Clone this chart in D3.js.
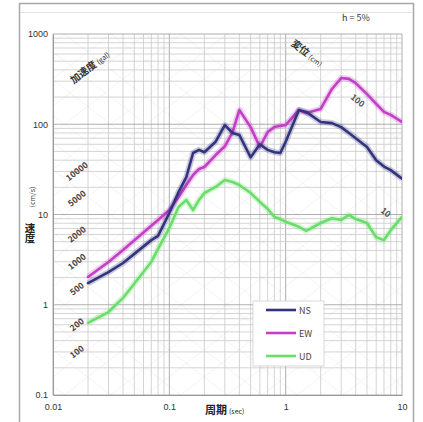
<!DOCTYPE html>
<html>
<head>
<meta charset="utf-8">
<script src="https://cdn.jsdelivr.net/npm/d3@7"></script>
<style>
  html, body { margin: 0; padding: 0; background: #fff; }
  svg { display: block; font-family: "Noto Sans CJK JP", "Noto Sans", sans-serif; }
</style>
</head>
<body>
<svg id="chart" width="423" height="422"></svg>
<script>
// Periods (s) at which the velocity response spectra are sampled
const periods = [0.02, 0.03, 0.04, 0.07, 0.08, 0.1, 0.12, 0.14, 0.16, 0.18, 0.2, 0.25, 0.3, 0.35, 0.4,
                 0.5, 0.6, 0.7, 0.8, 0.9, 1.0, 1.3, 1.5, 2.0, 2.5, 3.0, 3.5, 4.0, 5.0, 6.0, 7.0, 8.0, 10];
// Pseudo velocity response (cm/s), h = 5%
const nsVelocity = [1.74, 2.3, 2.9, 5.2, 5.8, 10.4, 17.7, 26, 48, 52, 49, 64, 98, 80, 76,
                    43, 60, 52, 49, 48, 64, 144, 137, 106, 103, 93, 80, 70, 56, 40, 34, 31, 25];
const ewVelocity = [2.03, 2.98, 4.05, 7.5, 8.7, 11.2, 15.6, 21.2, 27.4, 31.9, 33.6, 45.6, 57, 82, 144,
                    93, 56, 82, 93, 96, 98, 144, 133, 148, 246, 325, 318, 286, 216, 168, 137, 127, 106];
const udVelocity = [0.63, 0.83, 1.19, 2.98, 4.15, 7.1, 12.1, 14.5, 11.2, 14.5, 17.3, 20.2, 24.1, 22.9, 21.2,
                    17.3, 13.8, 11.5, 9.4, 8.9, 8.3, 7.3, 6.6, 8.05, 9.1, 8.7, 9.9, 8.9, 8.05, 5.6, 5.2, 6.7, 9.4];
const seriesNames = ["NS", "EW", "UD"];
const seriesColors = ["#34347e", "#c23fc6", "#6ade6a"];

const periodTicks = [0.01, 0.1, 1, 10];
const periodTickLabels = ["0.01", "0.1", "1", "10"];
const velocityTicks = [0.1, 1, 10, 100, 1000];
const velocityTickLabels = ["0.1", "1", "10", "100", "1000"];
const accelLabelValues = [100, 200, 500, 1000, 2000, 5000, 10000];
const dispLabelValues = [100, 10];

const svg = d3.select("#chart");
const plotL = 53, plotR = 402, plotT = 34, plotB = 395;

const x = d3.scaleLog().domain([0.01, 10]).range([plotL, plotR]);
const y = d3.scaleLog().domain([0.1, 1000]).range([plotB, plotT]);

// outer frame
svg.append("rect").attr("x", 19.5).attr("y", 3.5).attr("width", 394).attr("height", 430)
  .attr("fill", "none").attr("stroke", "#a8a8a8").attr("stroke-width", 1.5);
svg.append("line").attr("x1", 20).attr("x2", 413).attr("y1", 12.5).attr("y2", 12.5)
  .attr("stroke", "#e4e4e4");

svg.append("defs").append("clipPath").attr("id", "plotClip")
  .append("rect").attr("x", plotL).attr("y", plotT).attr("width", plotR - plotL).attr("height", plotB - plotT);

// diagonal lines: constant acceleration and constant displacement
const diag = svg.append("g").attr("clip-path", "url(#plotClip)");
const steps = [];
for (let e = -4; e <= 6; e++) [1, 2, 5].forEach(m => steps.push(m * Math.pow(10, e)));
const tEnds = [0.01, 10];
steps.forEach(a => {
  diag.append("line")
    .attr("x1", x(tEnds[0])).attr("y1", y(a * tEnds[0] / (2 * Math.PI)))
    .attr("x2", x(tEnds[1])).attr("y2", y(a * tEnds[1] / (2 * Math.PI)))
    .attr("stroke", "#e8e8e8").attr("stroke-width", 0.5);
  diag.append("line")
    .attr("x1", x(tEnds[0])).attr("y1", y(2 * Math.PI * a / tEnds[0]))
    .attr("x2", x(tEnds[1])).attr("y2", y(2 * Math.PI * a / tEnds[1]))
    .attr("stroke", "#e8e8e8").attr("stroke-width", 0.5);
});

// log grid
const minorX = [];
for (let e = -2; e < 1; e++) for (let m = 1; m < 10; m++) minorX.push(m * Math.pow(10, e));
minorX.push(10);
const minorY = [];
for (let e = -1; e < 3; e++) for (let m = 1; m < 10; m++) minorY.push(m * Math.pow(10, e));
minorY.push(1000);
const isDecade = d => Math.abs(Math.log10(d) - Math.round(Math.log10(d))) < 1e-9;

const grid = svg.append("g");
grid.selectAll(".vx").data(minorX).join("line")
  .attr("x1", d => x(d)).attr("x2", d => x(d)).attr("y1", plotT).attr("y2", plotB)
  .attr("stroke", d => isDecade(d) ? "#9a9a9a" : "#c9c9c9")
  .attr("stroke-width", 0.8);
grid.selectAll(".hy").data(minorY).join("line")
  .attr("y1", d => y(d)).attr("y2", d => y(d)).attr("x1", plotL).attr("x2", plotR)
  .attr("stroke", d => isDecade(d) ? "#9a9a9a" : "#c9c9c9")
  .attr("stroke-width", 0.8);

// axes
const xAxis = svg.append("g").attr("transform", `translate(0,${plotB})`)
  .call(d3.axisBottom(x).tickValues(periodTicks).tickSize(0).tickPadding(9)
    .tickFormat((d, i) => periodTickLabels[i]));
xAxis.select(".domain").attr("stroke", "#9a9a9a");
xAxis.selectAll("text").attr("font-size", 9).attr("fill", "#333");

const yAxis = svg.append("g").attr("transform", `translate(${plotL},0)`)
  .call(d3.axisLeft(y).tickValues(velocityTicks).tickSize(0).tickPadding(5)
    .tickFormat((d, i) => velocityTickLabels[i]));
yAxis.select(".domain").attr("stroke", "#9a9a9a");
yAxis.selectAll("text").attr("font-size", 9).attr("fill", "#333");

// axis titles
const xt = svg.append("text").attr("x", 205).attr("y", 414).attr("fill", "#222");
xt.append("tspan").attr("font-size", 11).attr("font-weight", "bold").text("周期");
xt.append("tspan").attr("font-size", 7).attr("dx", 2).text("(sec)");

// vertical title, upright characters
svg.append("text").attr("x", 30).attr("y", 233)
  .style("writing-mode", "vertical-rl").style("text-orientation", "upright")
  .attr("text-anchor", "middle").attr("font-size", 10.5).attr("font-weight", "bold")
  .attr("fill", "#222").text("速度");
svg.append("text").attr("transform", "translate(35,197) rotate(-90)")
  .attr("text-anchor", "middle").attr("font-size", 7).attr("fill", "#333").text("(cm/s)");

svg.append("text").attr("x", 356).attr("y", 21).attr("text-anchor", "middle")
  .attr("font-size", 9).attr("fill", "#333").text("h = 5%");

// diagonal scale labels
const ang = Math.atan((y(1) - y(10)) / (x(10) - x(1))) * 180 / Math.PI;
const tAcc = x.invert(80);
accelLabelValues.forEach(a => {
  svg.append("text")
    .attr("transform", `translate(80,${y(a * tAcc / (2 * Math.PI))}) rotate(${-ang})`)
    .attr("dy", -2).attr("text-anchor", "middle").attr("font-size", 8.5)
    .attr("font-weight", "bold").attr("fill", "#444").text(a);
});
const at = svg.append("text").attr("transform", `translate(92,70) rotate(${-ang})`)
  .attr("text-anchor", "middle").attr("fill", "#333");
at.append("tspan").attr("font-size", 10).attr("font-weight", "bold").text("加速度");
at.append("tspan").attr("font-size", 7).attr("dx", 2).text("(gal)");

const dt = svg.append("text").attr("transform", `translate(305,56) rotate(${ang})`)
  .attr("text-anchor", "middle").attr("fill", "#333");
dt.append("tspan").attr("font-size", 10).attr("font-weight", "bold").text("変位");
dt.append("tspan").attr("font-size", 7).attr("dx", 2).text("(cm)");

const dispX = [354, 382];
dispLabelValues.forEach((dv, i) => {
  const t = x.invert(dispX[i]);
  svg.append("text")
    .attr("transform", `translate(${dispX[i]},${y(2 * Math.PI * dv / t)}) rotate(${ang})`)
    .attr("dy", -3).attr("text-anchor", "middle").attr("font-size", 8.5)
    .attr("font-weight", "bold").attr("fill", "#555").text(dv);
});

// spectra
const seriesData = [nsVelocity, ewVelocity, udVelocity];
const line = d3.line().x(d => x(d[0])).y(d => y(d[1]));
const plot = svg.append("g").attr("clip-path", "url(#plotClip)");
[2, 1, 0].forEach(i => {
  const pts = periods.map((p, k) => [p, seriesData[i][k]]);
  plot.append("path").datum(pts).attr("d", line).attr("fill", "none")
    .attr("stroke", seriesColors[i]).attr("stroke-opacity", 0.25).attr("stroke-width", 6)
    .attr("stroke-linejoin", "round");
  plot.append("path").datum(pts).attr("d", line).attr("fill", "none")
    .attr("stroke", seriesColors[i]).attr("stroke-width", 2.6)
    .attr("stroke-linejoin", "round").attr("stroke-linecap", "round");
});

// legend
const lg = svg.append("g").attr("transform", "translate(253,301)");
lg.append("rect").attr("width", 71).attr("height", 65).attr("fill", "#fff")
  .attr("stroke", "#cfcfcf").attr("stroke-width", 0.8);
seriesNames.forEach((n, i) => {
  const yy = 9 + i * 23;
  lg.append("line").attr("x1", 13).attr("x2", 43).attr("y1", yy).attr("y2", yy)
    .attr("stroke", seriesColors[i]).attr("stroke-width", 2.6);
  lg.append("text").attr("x", 46).attr("y", yy + 3.5).attr("font-size", 9)
    .attr("fill", "#444").text(n);
});
</script>
</body>
</html>
